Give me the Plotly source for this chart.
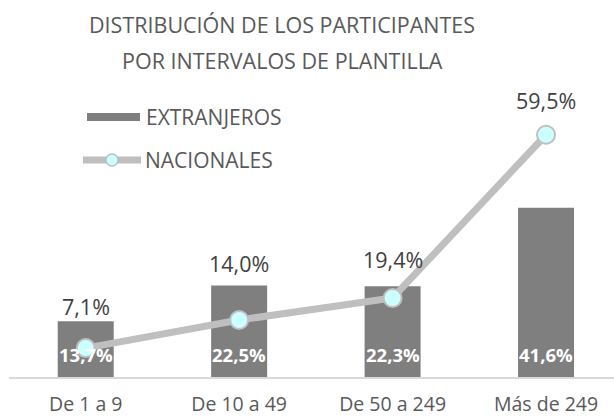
import plotly.graph_objects as go

categories = ["De 1 a 9", "De 10 a 49", "De 50 a 249", "Más de 249"]
extranjeros = [13.7, 22.5, 22.3, 41.6]
nacionales = [7.1, 14.0, 19.4, 59.5]
series_names = ["EXTRANJEROS", "NACIONALES"]
title_lines = ["DISTRIBUCIÓN DE LOS PARTICIPANTES", "POR INTERVALOS DE PLANTILLA"]

# style
BAR_COLOR = "#7F7F7F"
LINE_COLOR = "#BFBFBF"
MARKER_FILL = "#CCFFFF"
FONT = "Open Sans"
W, H = 614, 417
ML, MR, MT, MB = 9, 0, 92, 40
line_label_shift = [42, 57, 39, 34]
title_line_px = [25, 60]


def fmt(v):
    return f"{v:.1f}".replace(".", ",") + "%"


x_idx = list(range(len(categories)))

fig = go.Figure()
fig.add_trace(go.Bar(
    x=x_idx, y=extranjeros, name=series_names[0],
    marker=dict(color=BAR_COLOR, line=dict(width=0)),
    width=0.365, showlegend=False, hoverinfo="skip",
))
fig.add_trace(go.Scatter(
    x=x_idx, y=nacionales, name=series_names[1], mode="lines+markers",
    line=dict(color=LINE_COLOR, width=7),
    marker=dict(size=18, color=MARKER_FILL, line=dict(color=LINE_COLOR, width=2)),
    showlegend=False, hoverinfo="skip",
))

annotations = []
for i, v in enumerate(extranjeros):
    annotations.append(dict(
        x=i, y=0, xref="x", yref="y", text=fmt(v), showarrow=False,
        yshift=23, yanchor="middle",
        font=dict(family=FONT, size=18.5, color="white", weight="bold"),
    ))
for i, v in enumerate(nacionales):
    annotations.append(dict(
        x=i, y=v, xref="x", yref="y", text=fmt(v), showarrow=False,
        yshift=line_label_shift[i], yanchor="middle",
        font=dict(family=FONT, size=21.5, color="#404040"),
    ))

pw = W - ML - MR
ph = H - MT - MB


def px_x(px):
    return (px - ML) / pw


def px_y(py):
    return (H - MB - py) / ph


# title as two centred lines
for line, py in zip(title_lines, title_line_px):
    annotations.append(dict(x=px_x(282), y=px_y(py), xref="paper", yref="paper",
                            text=line, showarrow=False, xanchor="center", yanchor="middle",
                            font=dict(family=FONT, size=21.5, color="#595959")))

# manual legend
shapes = [
    dict(type="rect", xref="paper", yref="paper",
         x0=px_x(87), x1=px_x(140), y0=px_y(121), y1=px_y(113),
         fillcolor=BAR_COLOR, line=dict(width=0)),
    dict(type="line", xref="paper", yref="paper",
         x0=px_x(83), x1=px_x(141), y0=px_y(160), y1=px_y(160),
         line=dict(color=LINE_COLOR, width=7)),
    dict(type="circle", xref="paper", yref="paper",
         x0=px_x(106), x1=px_x(118), y0=px_y(166), y1=px_y(154),
         fillcolor=MARKER_FILL, line=dict(color=LINE_COLOR, width=1.5)),
]
annotations.append(dict(x=px_x(144), y=px_y(117), xref="paper", yref="paper",
                        text=series_names[0], showarrow=False, xanchor="left", yanchor="middle",
                        font=dict(family=FONT, size=21, color="#595959")))
annotations.append(dict(x=px_x(143), y=px_y(160), xref="paper", yref="paper",
                        text=series_names[1], showarrow=False, xanchor="left", yanchor="middle",
                        font=dict(family=FONT, size=21, color="#595959")))

fig.update_layout(
    width=W, height=H,
    margin=dict(l=ML, r=MR, t=MT, b=MB, pad=0, autoexpand=False),
    paper_bgcolor="white", plot_bgcolor="white",
    xaxis=dict(
        range=[-0.5, 3.443], tickmode="array", tickvals=x_idx, ticktext=categories,
        showgrid=False, zeroline=False, showline=True, linecolor="#D9D9D9", linewidth=1.5,
        ticks="", ticklabelstandoff=9, automargin=False,
        tickfont=dict(family=FONT, size=19.5, color="#595959"),
    ),
    yaxis=dict(range=[0, 70], visible=False, showgrid=False, zeroline=False, automargin=False),
    annotations=annotations, shapes=shapes,
    bargap=0.6, showlegend=False,
)

fig.write_html("out.html", config={"displayModeBar": False},
               post_script="document.body.style.margin='0';")
